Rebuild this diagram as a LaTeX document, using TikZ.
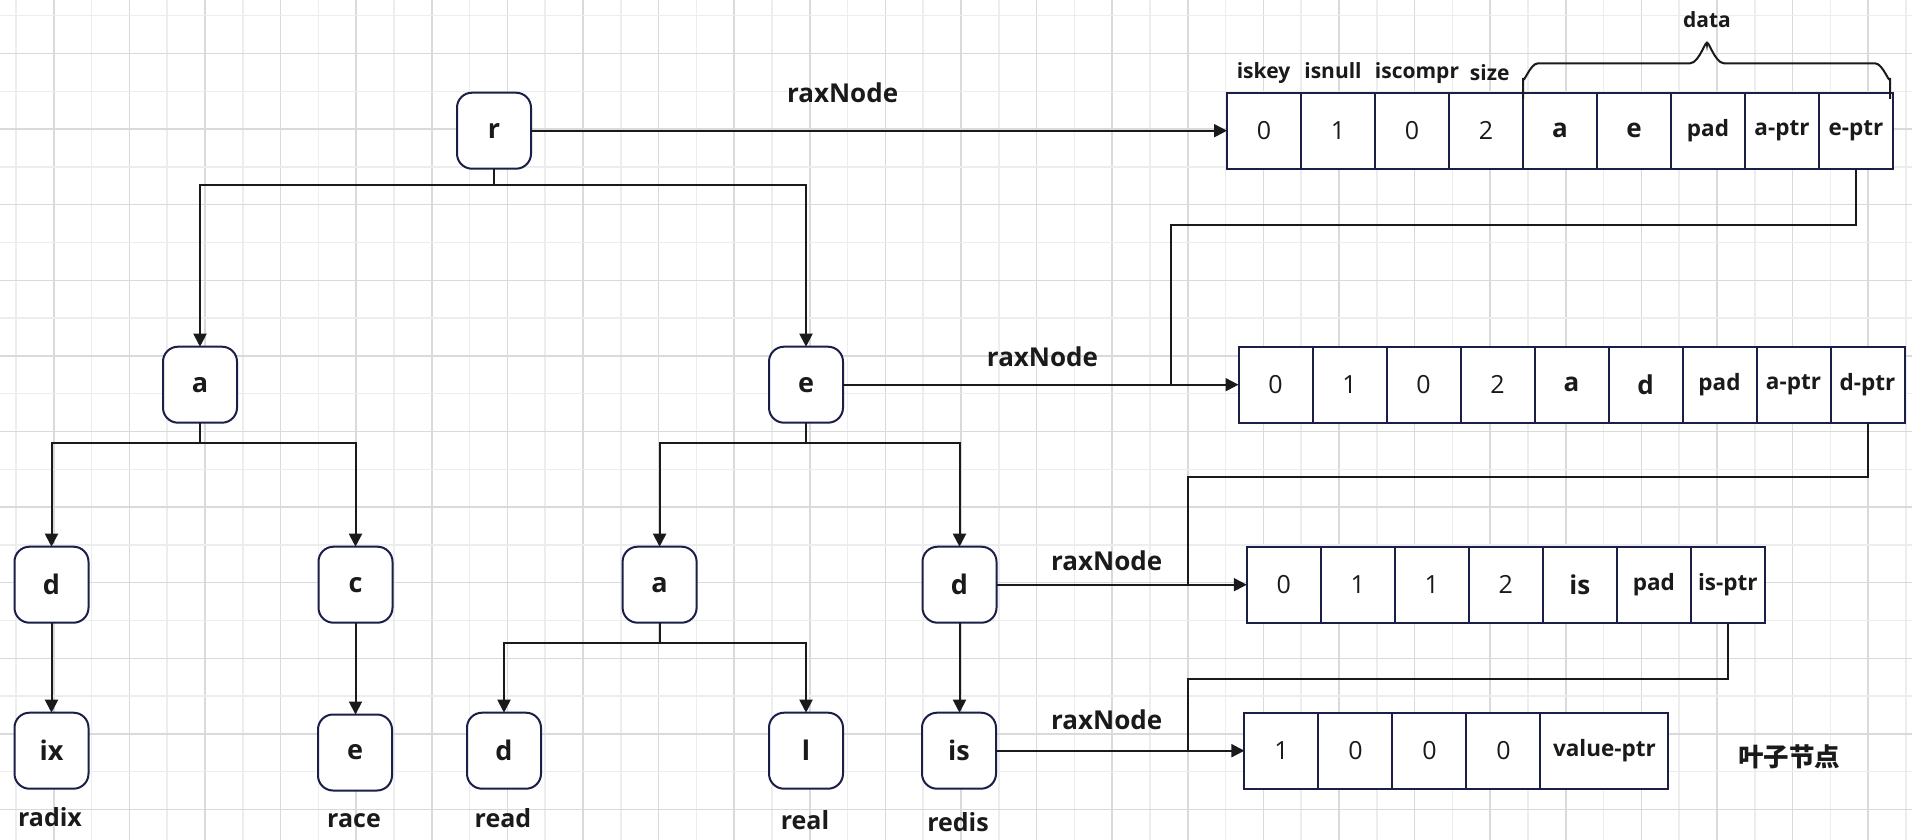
\documentclass[tikz,border=0pt]{standalone}
\usepackage{fontspec}
\setmainfont{Open Sans}
\newfontfamily\cjk{Noto Sans CJK SC}
\usetikzlibrary{arrows.meta}
\definecolor{navy}{RGB}{26,30,72}
\definecolor{ink}{RGB}{26,26,26}
\definecolor{gmaj}{RGB}{218,218,218}
\definecolor{gmin}{RGB}{237,237,237}
\begin{document}
\begin{tikzpicture}[x=1pt,y=-1pt,
 tnode/.style={draw=navy, line width=2pt, fill=white, rounded corners=15pt, minimum width=74pt, minimum height=76pt, inner sep=0pt, outer sep=0pt, font=\fontsize{27}{30}\selectfont\bfseries, text=ink},
 cell/.style={draw=navy, line width=2pt, fill=white, minimum width=74pt, minimum height=76pt, inner sep=0pt, outer sep=0pt, anchor=west, text=ink},
 cnum/.style={cell, font=\fontsize{25}{28}\selectfont},
 clet/.style={cell, font=\fontsize{26}{29}\selectfont\bfseries},
 csml/.style={cell, font=\fontsize{22.5}{25}\selectfont\bfseries},
 lbl/.style={font=\fontsize{25}{28}\selectfont\bfseries, text=ink, inner sep=0pt, anchor=base},
 rax/.style={font=\fontsize{26}{29}\selectfont\bfseries, text=ink, inner sep=0pt, anchor=base},
 hdr/.style={font=\fontsize{21}{24}\selectfont\bfseries, text=ink, inner sep=0pt, anchor=base},
 conn/.style={draw=ink, line width=2pt},
 arr/.style={conn, -{Triangle[length=13pt,width=13pt]}},
 gridmin/.style={draw=gmin, line width=1.5pt},
 gridmaj/.style={draw=gmaj, line width=1.5pt},
]
\useasboundingbox (0,0) rectangle (1912,840);
\fill[white] (0,0) rectangle (1912,840);
% grid
\foreach \k in {0,...,25} \draw[gridmin] ({16+75.6*\k},0) -- ({16+75.6*\k},840);
\foreach \k in {0,...,24} \draw[gridmaj] ({53.8+75.6*\k},0) -- ({53.8+75.6*\k},840);
\foreach \k in {0,...,10} \draw[gridmin] (0,{15.7+75.6*\k}) -- (1912,{15.7+75.6*\k});
\foreach \k in {0,...,10} \draw[gridmaj] (0,{53.5+75.6*\k}) -- (1912,{53.5+75.6*\k});

% tree nodes
\node[tnode] (r) at (494,130.7) {r};
\node[tnode] (a2) at (200,384.7) {a};
\node[tnode] (e2) at (806,384.7) {e};
\node[tnode] (d3L) at (51.5,584.7) {d};
\node[tnode] (c) at (355.5,584.7) {c};
\node[tnode] (a3) at (659.6,584.7) {a};
\node[tnode] (d3R) at (959.5,584.7) {d};
\node[tnode] (ix) at (51.5,750.7) {ix};
\node[tnode] (e4) at (355,752.5) {e};
\node[tnode] (d4) at (504,750.7) {d};
\node[tnode] (l) at (806,750.7) {l};
\node[tnode] (is) at (959,750.7) {is};

% word labels
\node[lbl] (w1) at (50,826) {radix};
\node[lbl] (w2) at (354,827) {race};
\node[lbl] (w3) at (503,827) {read};
\node[lbl] (w4) at (805,829.5) {real};
\node[lbl] (w5) at (958,831.5) {redis};

% tree connectors
\draw[arr] (r.south) -- ++(0,16) -| (a2.north);
\draw[arr] (r.south) -- ++(0,16) -| (e2.north);
\draw[arr] (a2.south) -- ++(0,20) -| (d3L.north);
\draw[arr] (a2.south) -- ++(0,20) -| (c.north);
\draw[arr] (e2.south) -- ++(0,20) -| (a3.north);
\draw[arr] (e2.south) -- ++(0,20) -| (d3R.north);
\draw[arr] (a3.south) -- ++(0,20) -| (d4.north);
\draw[arr] (a3.south) -- ++(0,20) -| (l.north);
\draw[arr] (d3L.south) -- (d3L.south |- ix.north);
\draw[arr] (c.south) -- (c.south |- e4.north);
\draw[arr] (d3R.south) -- (d3R.south |- is.north);

% struct 1
\node[cnum] (s1a) at (1227,130.7) {0};
\node[cnum] (s1b) at (s1a.east) {1};
\node[cnum] (s1c) at (s1b.east) {0};
\node[cnum] (s1d) at (s1c.east) {2};
\node[clet] (s1e) at (s1d.east) {a};
\node[clet] (s1f) at (s1e.east) {e};
\node[csml] (s1g) at (s1f.east) {pad};
\node[csml] (s1h) at (s1g.east) {a-ptr};
\node[csml] (s1i) at (s1h.east) {e-ptr};

% struct 2
\node[cnum] (s2a) at (1238.5,384.7) {0};
\node[cnum] (s2b) at (s2a.east) {1};
\node[cnum] (s2c) at (s2b.east) {0};
\node[cnum] (s2d) at (s2c.east) {2};
\node[clet] (s2e) at (s2d.east) {a};
\node[clet] (s2f) at (s2e.east) {d};
\node[csml] (s2g) at (s2f.east) {pad};
\node[csml] (s2h) at (s2g.east) {a-ptr};
\node[csml] (s2i) at (s2h.east) {d-ptr};

% struct 3
\node[cnum] (s3a) at (1246.8,584.7) {0};
\node[cnum] (s3b) at (s3a.east) {1};
\node[cnum] (s3c) at (s3b.east) {1};
\node[cnum] (s3d) at (s3c.east) {2};
\node[clet] (s3e) at (s3d.east) {is};
\node[csml] (s3f) at (s3e.east) {pad};
\node[csml] (s3g) at (s3f.east) {is-ptr};

% struct 4
\node[cnum] (s4a) at (1244.4,750.7) {1};
\node[cnum] (s4b) at (s4a.east) {0};
\node[cnum] (s4c) at (s4b.east) {0};
\node[cnum] (s4d) at (s4c.east) {0};
\node[csml, minimum width=128pt] (s4e) at (s4d.east) {value-ptr};

\node[font=\cjk\bfseries\fontsize{25.5}{28}\selectfont, text=ink, inner sep=0pt] (leaf) at (1789,757) {叶子节点};

% header labels
\node[hdr] (hk) at (1263.5,79) {iskey};
\node[hdr] (hn) at (1333,79) {isnull};
\node[hdr] (hc) at (1417,79) {iscompr};
\node[hdr] (hs) at (1489.7,81) {size};
\node[hdr] (hd) at (1707,27.5) {data};
\draw[conn] (1523,99) -- (1523,78) to[out=270,in=180] (1538,63.3) -- (1690,63.3)
  to[out=0,in=90] (1707,45) to[out=90,in=180] (1724,63.3) -- (1875,63.3)
  to[out=0,in=270] (1890,78) -- (1890,99);

% raxNode links
\draw[arr] (r.east) -- (s1a.west);
\draw[arr] (e2.east) -- (s2a.west);
\draw[arr] (d3R.east) -- (s3a.west);
\draw[arr] (is.east) -- (s4a.west);
\node[rax] (L1) at (842.6,102.5) {raxNode};
\node[rax] (L2) at (1042.5,366.7) {raxNode};
\node[rax] (L3) at (1106.7,570.7) {raxNode};
\node[rax] (L4) at (1106.7,729.3) {raxNode};

% pointer connectors
\coordinate (j1) at (1170.7,384.7);
\coordinate (j2) at (1188.3,584.7);
\coordinate (j3) at (1188.3,750.7);
\draw[conn] (s1i.south) -- ++(0,56) -| (j1);
\draw[conn] (s2i.south) -- ++(0,54) -| (j2);
\draw[conn] (s3g.south) -- ++(0,56.3) -| (j3);
\end{tikzpicture}
\end{document}
